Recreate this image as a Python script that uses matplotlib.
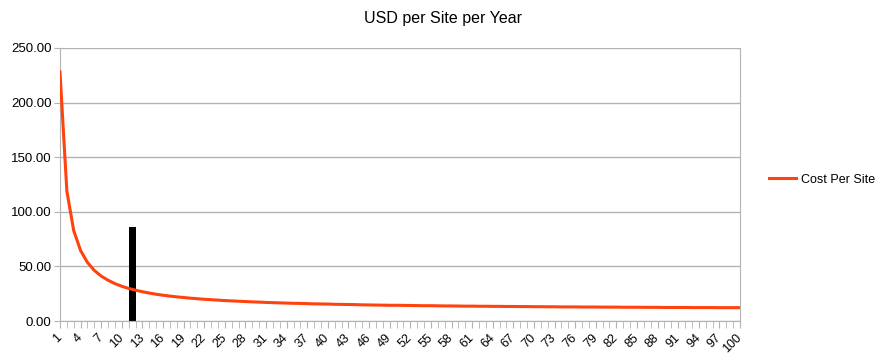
import matplotlib.pyplot as plt
from matplotlib.ticker import FixedLocator, FormatStrFormatter

plt.rcParams['font.family'] = ['Liberation Sans', 'DejaVu Sans']

# Number of sites (category axis) and cost per site per year
sites = list(range(1, 101))
cost_per_site = [
    228.0, 119.0, 82.7, 64.5, 53.6, 46.3, 41.1, 37.3, 34.2, 31.8,
    29.8, 28.2, 26.8, 25.6, 24.5, 23.6, 22.8, 22.1, 21.5, 20.9,
    20.4, 19.9, 19.5, 19.1, 18.7, 18.4, 18.1, 17.8, 17.5, 17.3,
    17.0, 16.8, 16.6, 16.4, 16.2, 16.1, 15.9, 15.7, 15.6, 15.5,
    15.3, 15.2, 15.1, 15.0, 14.8, 14.7, 14.6, 14.5, 14.4, 14.4,
    14.3, 14.2, 14.1, 14.0, 14.0, 13.9, 13.8, 13.8, 13.7, 13.6,
    13.6, 13.5, 13.5, 13.4, 13.4, 13.3, 13.3, 13.2, 13.2, 13.1,
    13.1, 13.0, 13.0, 12.9, 12.9, 12.9, 12.8, 12.8, 12.8, 12.7,
    12.7, 12.7, 12.6, 12.6, 12.6, 12.5, 12.5, 12.5, 12.4, 12.4,
    12.4, 12.4, 12.3, 12.3, 12.3, 12.3, 12.2, 12.2, 12.2, 12.2,
]

# The black marker bar
marker_x = [11.5]
marker_height = [86]

y_ticks = [0, 50, 100, 150, 200, 250]
x_labels = list(range(1, 101, 3))

fig = plt.figure(figsize=(8.86, 3.63), dpi=100)
ax = fig.add_axes([0.0677, 0.1157, 0.7675, 0.7523])

grid_color = "#b3b3b3"
ax.set_ylim(0, 250)
ax.set_xlim(1, 100)
ax.yaxis.set_major_locator(FixedLocator(y_ticks))
ax.yaxis.set_major_formatter(FormatStrFormatter("%.2f"))
ax.grid(axis="y", color=grid_color, linewidth=1)
ax.set_axisbelow(True)

ax.bar(marker_x, marker_height, width=1.0, color="black", zorder=2)
line, = ax.plot(sites, cost_per_site, color="#ff420e", linewidth=2.2,
                label="Cost Per Site", zorder=3)

ax.set_xticks(x_labels)
ax.set_xticks(sites, minor=True)
ax.set_xticklabels([str(v) for v in x_labels], rotation=45,
                   ha="right", va="center", rotation_mode="anchor")
ax.tick_params(axis="x", which="both", length=5, color=grid_color,
               labelsize=9, pad=6)
ax.tick_params(axis="y", length=4, color=grid_color, labelsize=9.5, pad=2)

for s in ax.spines.values():
    s.set_color(grid_color)
ax.spines["top"].set_visible(False)

fig.text(0.5, 0.948, "USD per Site per Year", ha="center", va="center",
         fontsize=11.5)

fig.legend(handles=[line], loc="center left", bbox_to_anchor=(0.855, 0.505),
           frameon=False, fontsize=9, handlelength=2.2, handletextpad=0.4)

fig.savefig("out.png", dpi=100)
